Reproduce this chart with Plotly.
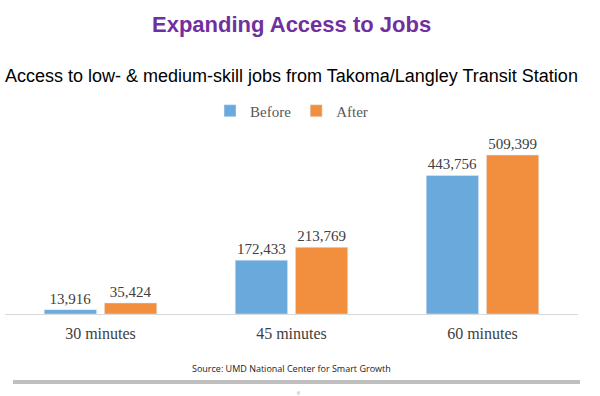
import plotly.graph_objects as go

categories = ["30 minutes", "45 minutes", "60 minutes"]
before = [13916, 172433, 443756]
after = [35424, 213769, 509399]

fig = go.Figure()
fig.add_trace(go.Bar(name="Before", x=categories, y=before, marker_color="#6AA9DC",
                     text=before, texttemplate="%{y:,}", textposition="outside",
                     textfont=dict(family="Liberation Serif", size=15, color="#404040"),
                     cliponaxis=False))
fig.add_trace(go.Bar(name="After", x=categories, y=after, marker_color="#F28F3E",
                     text=after, texttemplate="%{y:,}", textposition="outside",
                     textfont=dict(family="Liberation Serif", size=15, color="#404040"),
                     cliponaxis=False))

W, H = 600, 396
plot_top, plot_bottom = 130, 314
h = plot_bottom - plot_top

def py(pix):
    return (plot_bottom - pix) / h

fig.update_layout(
    width=W, height=H,
    margin=dict(l=5, r=22, t=plot_top, b=H - plot_bottom, autoexpand=False),
    paper_bgcolor="white", plot_bgcolor="white",
    barmode="group", bargap=0.37, bargroupgap=0.13,
    showlegend=True,
    legend=dict(orientation="h", x=0.5, xanchor="center", y=1 - 111 / H, yref="container",
                yanchor="middle", font=dict(family="Liberation Serif", size=15, color="#595959"),
                bgcolor="rgba(0,0,0,0)", itemwidth=30),
    xaxis=dict(showline=True, linecolor="#D9D9D9", linewidth=1, ticks="",
               ticklabelstandoff=5,
               tickfont=dict(family="Liberation Serif", size=16, color="#404040")),
    yaxis=dict(range=[0, 589500], visible=False, showgrid=False),
)

fig.add_annotation(text="<b>Expanding Access to Jobs</b>", x=0.5, xref="paper", y=py(24), yref="paper",
                   yanchor="middle", showarrow=False,
                   font=dict(family="Liberation Sans", size=22, color="#7030A0"))
fig.add_annotation(text="Access to low- & medium-skill jobs from Takoma/Langley Transit Station",
                   x=0.5, xref="paper", y=py(76), yref="paper", yanchor="middle", showarrow=False,
                   font=dict(family="Liberation Sans", size=18, color="black"))
fig.add_annotation(text="Source: UMD National Center for Smart Growth", x=0.5, xref="paper",
                   y=py(368), yref="paper", yanchor="middle", showarrow=False,
                   font=dict(family="Open Sans", size=9, color="#222222"))
fig.add_annotation(text="6", x=(298 - 5) / 573, xref="paper",
                   y=py(393), yref="paper", yanchor="middle", showarrow=False,
                   font=dict(family="Open Sans", size=5, color="#999999"))

fig.add_shape(type="rect", xref="paper", yref="paper",
              x0=(13 - 5) / 573, x1=(580 - 5) / 573, y0=py(384), y1=py(380),
              fillcolor="#BFBFBF", line_width=0)

fig.write_html("out.html", config={"displayModeBar": False},
               post_script="document.body.style.margin='0px';")
